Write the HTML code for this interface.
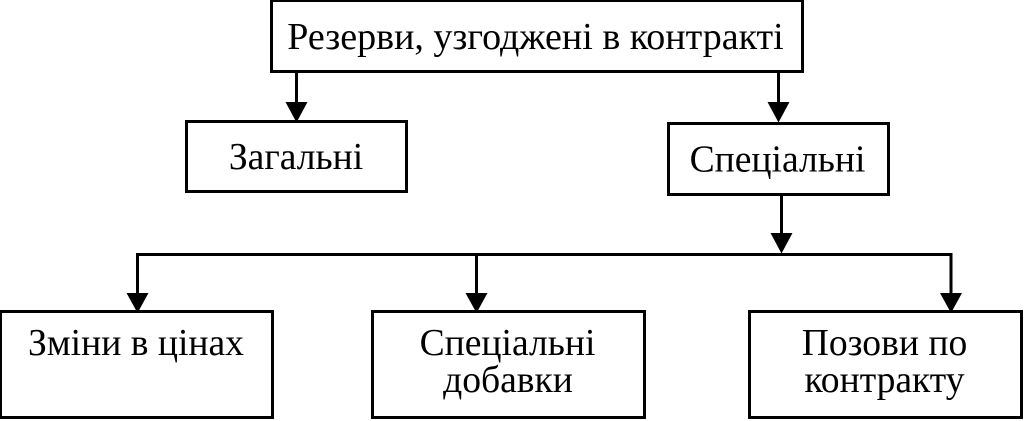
<!DOCTYPE html>
<html>
<head>
<meta charset="utf-8">
<style>
html,body{margin:0;padding:0;background:#fff;width:1024px;height:421px;overflow:hidden}
svg{display:block}
text{font-family:"Liberation Serif",serif;font-size:37.6px;fill:#000;text-anchor:middle}
</style>
</head>
<body>
<svg width="1024" height="421" viewBox="0 0 1024 421" xmlns="http://www.w3.org/2000/svg">
<g fill="none" stroke="#000" stroke-width="3">
<rect x="271.500" y="0.500" width="531" height="71"/>
<rect x="186.500" y="121.500" width="220" height="70"/>
<rect x="668.500" y="123.500" width="220" height="71"/>
<rect x="0.500" y="311.500" width="272" height="106"/>
<rect x="372.500" y="311.500" width="272" height="106"/>
<rect x="749.500" y="311.500" width="272" height="106"/>
<path d="M296.500 71V104M778.500 71V104M781.500 194V235M137.500 294V254.500H951V294M476.500 254.500V294"/>
</g>
<g fill="#000">
<polygon points="285.500,102 307.500,102 296.500,122.500"/>
<polygon points="767.500,102 789.500,102 778.500,122.500"/>
<polygon points="770.500,233 792.500,233 781.500,253.500"/>
<polygon points="126.500,293 148.500,293 137.500,313"/>
<polygon points="465.500,293 487.500,293 476.500,313"/>
<polygon points="940,293 962,293 951,313"/>
</g>
<text x="535.500" y="49" style="font-size:38px">Резерви, узгоджені в контракті</text>
<text x="296" y="169">Загальні</text>
<text x="777.500" y="171.500">Спеціальні</text>
<text x="136" y="355">Зміни в цінах</text>
<text x="507.500" y="355">Спеціальні</text>
<text x="508" y="392">добавки</text>
<text x="884.500" y="355">Позови по</text>
<text x="884.500" y="392">контракту</text>
</svg>
</body>
</html>
